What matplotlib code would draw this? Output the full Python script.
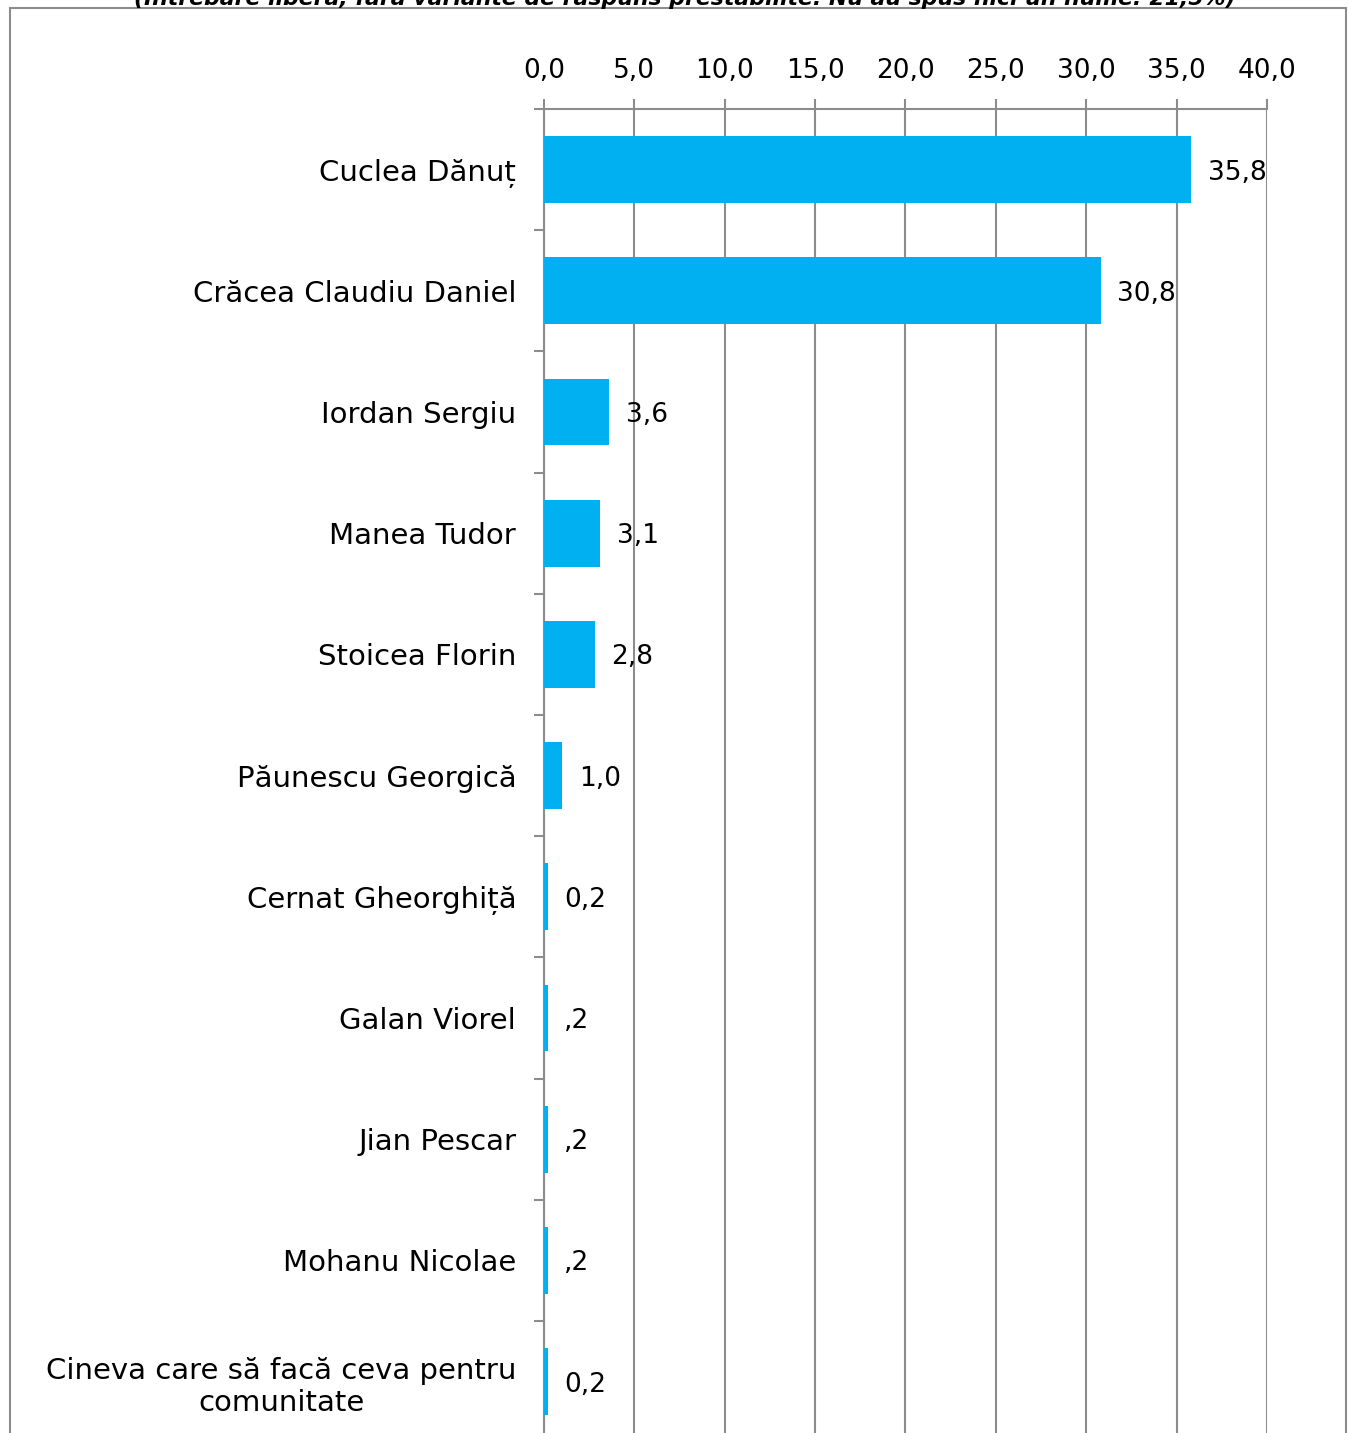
import matplotlib
matplotlib.use("Agg")
import matplotlib.pyplot as plt
from matplotlib.patches import Rectangle
import numpy as np

categories = ["Cuclea Dănuț", "Crăcea Claudiu Daniel", "Iordan Sergiu", "Manea Tudor",
              "Stoicea Florin", "Păunescu Georgică", "Cernat Gheorghiță", "Galan Viorel",
              "Jian Pescar", "Mohanu Nicolae", "Cineva care să facă ceva pentru\ncomunitate"]
values = [35.8, 30.8, 3.6, 3.1, 2.8, 1.0, 0.2, 0.2, 0.2, 0.2, 0.2]
value_labels = ["35,8", "30,8", "3,6", "3,1", "2,8", "1,0", "0,2", ",2", ",2", ",2", "0,2"]
xticks = [0, 5, 10, 15, 20, 25, 30, 35, 40]
xtick_labels = ["0,0", "5,0", "10,0", "15,0", "20,0", "25,0", "30,0", "35,0", "40,0"]
title = "(Întrebare liberă, fără variante de răspuns prestabilite. Nu au spus nici un nume: 21,5%)"

plt.rcParams['font.family'] = ['DejaVu Sans']
W, H = 1348, 1433
fig = plt.figure(figsize=(W / 100, H / 100), dpi=100)

# frame
fig.patches.append(Rectangle((10 / W, -0.01), (1346 - 10) / W, 1 - 8 / H + 0.01,
                             transform=fig.transFigure, fill=False,
                             edgecolor="#8c8c8c", linewidth=1.5))
fig.text(685 / W, 1 + 3 / H, title, ha="center", va="center", fontsize=15.8,
         fontweight="bold", fontstyle="italic", color="black")

ax_left, ax_right = 544 / W, 1267 / W
ax_top = 1 - 109 / H
n = len(categories)
step = 121.2
ax_h = n * step / H
ax = fig.add_axes([ax_left, ax_top - ax_h, ax_right - ax_left, ax_h])

y = np.arange(n)
ax.barh(y, values, height=0.55, color="#00B0F0", zorder=3)
ax.set_ylim(n - 0.5, -0.5)
ax.set_xlim(0, 40)

ax.xaxis.tick_top()
ax.set_xticks(xticks)
ax.set_xticklabels(xtick_labels, fontsize=19)
ax.tick_params(axis="x", length=7, width=1.5, color="#8c8c8c", pad=11)
ax.grid(axis="x", color="#8c8c8c", linewidth=1.5, zorder=0)

ax.set_yticks(y)
ax.set_yticklabels(categories, fontsize=21, multialignment="center")
ax.tick_params(axis="y", length=0, pad=20)
ax.set_yticks(np.arange(n + 1) - 0.5, minor=True)
ax.tick_params(axis="y", which="minor", length=7, width=1.5, color="#8c8c8c")

for s in ["right", "bottom"]:
    ax.spines[s].set_visible(False)
for s in ["top", "left"]:
    ax.spines[s].set_color("#8c8c8c")
    ax.spines[s].set_linewidth(1.5)

for yi, v, lab in zip(y, values, value_labels):
    ax.annotate(lab, (v, yi), xytext=(12, 0), textcoords="offset points",
                ha="left", va="center_baseline", fontsize=19)

fig.savefig("out.png", dpi=100)
